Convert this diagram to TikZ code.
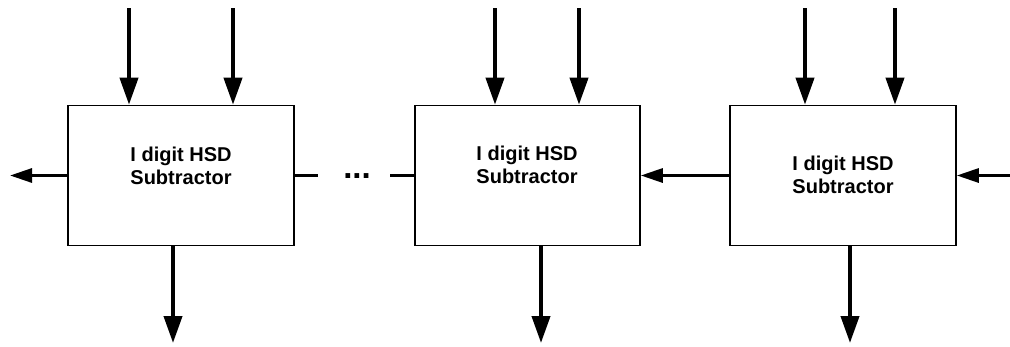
\documentclass[tikz,border=0pt]{standalone}
\usepackage{fontspec}
\setmainfont{Liberation Sans}
\usetikzlibrary{arrows.meta}
\begin{document}
\begin{tikzpicture}[x=1pt,y=-1pt,
  box/.style={draw, line width=1.6pt, minimum width=226pt, minimum height=140pt, inner sep=0pt},
  lbl/.style={font=\fontsize{20pt}{23.3pt}\selectfont\bfseries, align=center, inner sep=0pt},
  dotsfont/.style={font=\fontsize{33pt}{36pt}\selectfont\bfseries, inner sep=0pt},
  bus/.style={line width=4pt, -{Triangle[length=27pt,width=18pt]}},
  carry/.style={line width=3pt, -{Triangle[length=22pt,width=14pt]}},
  wire/.style={line width=3pt}]
\useasboundingbox (0,0) rectangle (1010,346);

% subtractor cells
\node[box] (b1) at (181,175.5) {};
\node[box, minimum width=225pt] (b2) at (527.5,175.5) {};
\node[box] (b3) at (843,175.5) {};

\node[lbl] (t1) at (181,165.5) {I digit HSD\\Subtractor};
\node[lbl] (t2) at (527,165) {I digit HSD\\Subtractor};
\node[lbl] (t3) at (843,175) {I digit HSD\\Subtractor};

% operand inputs
\coordinate (i11) at (129,8);
\coordinate (i12) at (233,8);
\coordinate (i21) at (495,8);
\coordinate (i22) at (579,8);
\coordinate (i31) at (805,8);
\coordinate (i32) at (895,8);
\foreach \c/\b in {i11/b1,i12/b1,i21/b2,i22/b2,i31/b3,i32/b3}
  \draw[bus] (\c) -- (\c |- \b.north);

% digit outputs
\coordinate (o1) at (173,343);
\coordinate (o2) at (541,343);
\coordinate (o3) at (850,343);
\draw[bus] (o1 |- b1.south) -- (o1);
\draw[bus] (o2 |- b2.south) -- (o2);
\draw[bus] (o3 |- b3.south) -- (o3);

% borrow chain
\coordinate (bout) at (10,175.5);
\coordinate (bin) at (1010,175.5);
\coordinate (d1) at (318,175.5);
\coordinate (d2) at (390,175.5);
\draw[carry] (b1.west) -- (bout);
\draw[wire] (b1.east) -- (d1);
\node[dotsfont, anchor=base] (dots) at (357,178.3) {...};
\draw[wire] (d2) -- (b2.west);
\draw[carry] (b3.west) -- (b2.east);
\draw[carry] (bin) -- (b3.east);
\end{tikzpicture}
\end{document}
